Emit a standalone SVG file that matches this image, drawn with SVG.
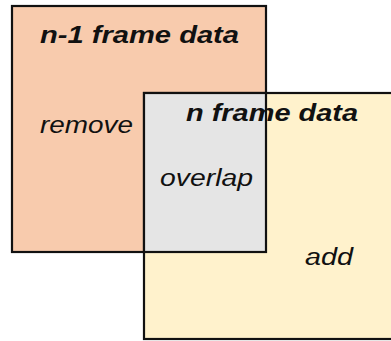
<svg xmlns="http://www.w3.org/2000/svg" width="391" height="341" viewBox="0 0 391 341">
<style>
.box{stroke:#111;stroke-width:2.2}
.t{font-family:"Liberation Sans","Noto Sans",sans-serif;font-style:italic;fill:#111}
.b{font-weight:bold;font-size:24px}
.l{font-size:23px}
</style>
<rect width="391" height="341" fill="#fff"/>
<g id="prev">
<rect class="box" x="12" y="6" width="254" height="246" fill="#F8CBAD"/>
</g>
<g id="curr">
<rect class="box" x="144" y="93" width="252" height="246" fill="#FFF2CC"/>
</g>
<g id="overlapRegion">
<rect class="box" x="144" y="93" width="122" height="159" fill="#E5E5E5"/>
</g>
<g id="labels">
<text class="t b" x="40" y="43" textLength="199" lengthAdjust="spacingAndGlyphs">n-1 frame data</text>
<text class="t l" x="40" y="133" textLength="93" lengthAdjust="spacingAndGlyphs">remove</text>
<text class="t b" x="186" y="121" textLength="172" lengthAdjust="spacingAndGlyphs">n frame data</text>
<text class="t l" x="160" y="186" textLength="93" lengthAdjust="spacingAndGlyphs">overlap</text>
<text class="t l" x="305" y="265" textLength="48" lengthAdjust="spacingAndGlyphs">add</text>
</g>
</svg>
